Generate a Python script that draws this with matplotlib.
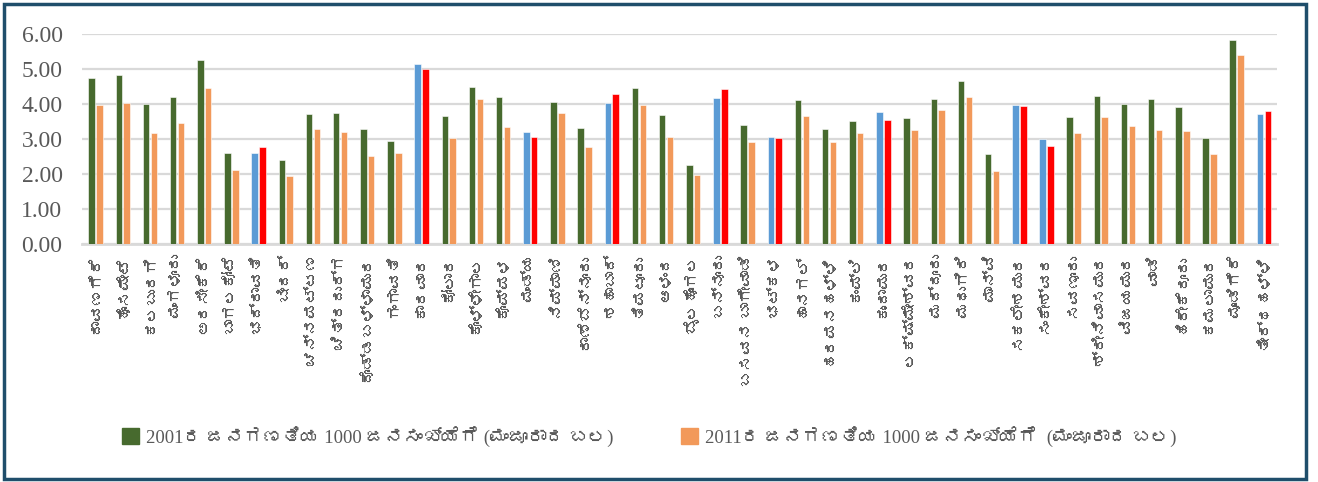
import numpy as np
import matplotlib
matplotlib.use("Agg")
import matplotlib.pyplot as plt
from matplotlib import font_manager
from matplotlib.ft2font import FT2Font
from matplotlib.patches import Patch, Rectangle

# ಪಟ್ಟಣಗಳು / ನಗರಗಳು
towns = ["ದಾವಣಗೆರೆ", "ಹೊಸಪೇಟೆ", "ಕಲಬುರಗಿ", "ಮಂಗಳೂರು", "ಅರಸೀಕೆರೆ", "ಬಾಗಲಕೋಟೆ",
         "ಭದ್ರಾವತಿ", "ಬೀದರ್", "ಚನ್ನಪಟ್ಟಣ", "ಚಿತ್ರದುರ್ಗ", "ದೊಡ್ಡಬಳ್ಳಾಪುರ", "ಗಂಗಾವತಿ",
         "ಕಾರವಾರ", "ಕೋಲಾರ", "ಕೊಳ್ಳೇಗಾಲ", "ಕೊಪ್ಪಳ", "ಮಂಡ್ಯ", "ನಿಪ್ಪಾಣಿ",
         "ರಾಣೆಬೆನ್ನೂರು", "ಶಹಾಬಾದ್", "ತಿಪಟೂರು", "ಆಳಂದ", "ಬೈಲಹೊಂಗಲ", "ಬನ್ನೂರು",
         "ಬಸವನ ಬಾಗೇವಾಡಿ", "ಭಟ್ಕಳ", "ಹಾನಗಲ್", "ಹರಪನಹಳ್ಳಿ", "ಕಂಪ್ಲಿ", "ಕುಂದಾಪುರ",
         "ಲಕ್ಷ್ಮೇಶ್ವರ", "ಮದ್ದೂರು", "ಮಧುಗಿರಿ", "ಮಾನ್ವಿ", "ಸಕಲೇಶಪುರ", "ಸಂಕೇಶ್ವರ",
         "ಸವಣೂರು", "ಶ್ರೀನಿವಾಸಪುರ", "ವಿಜಯಪುರ", "ವಾಡಿ", "ಹಿರೇಕೆರೂರು", "ಕಮಲಾಪುರ",
         "ಮೂಡಿಗೆರೆ", "ತೀರ್ಥಹಳ್ಳಿ"]

# 2001 ಮತ್ತು 2011 ಜನಗಣತಿಯ ಪ್ರಕಾರ 1000 ಜನಸಂಖ್ಯೆಗೆ ಮಂಜೂರಾದ ಬಲ
v2001 = [4.73, 4.83, 4.01, 4.20, 5.26, 2.59, 2.60, 2.39, 3.71, 3.73, 3.29, 2.95,
         5.14, 3.67, 4.49, 4.20, 3.20, 4.07, 3.30, 4.02, 4.45, 3.69, 2.25, 4.17,
         3.39, 3.06, 4.12, 3.29, 3.52, 3.77, 3.59, 4.14, 4.65, 2.56, 3.97, 3.00,
         3.63, 4.23, 4.00, 4.13, 3.90, 3.02, 5.82, 3.71]
v2011 = [3.97, 4.02, 3.17, 3.45, 4.45, 2.10, 2.78, 1.93, 3.28, 3.21, 2.52, 2.60,
         5.00, 3.02, 4.13, 3.33, 3.06, 3.75, 2.78, 4.29, 3.96, 3.06, 1.96, 4.43,
         2.91, 3.03, 3.66, 2.92, 3.17, 3.54, 3.26, 3.82, 4.19, 2.08, 3.94, 2.80,
         3.17, 3.63, 3.38, 3.27, 3.23, 2.58, 5.39, 3.80]

# ಬೇರೆ ಬಣ್ಣದಲ್ಲಿ ತೋರಿಸಿದ ಪಟ್ಟಣಗಳು
highlighted = ["ಭದ್ರಾವತಿ", "ಕಾರವಾರ", "ಮಂಡ್ಯ", "ಶಹಾಬಾದ್", "ಬನ್ನೂರು", "ಭಟ್ಕಳ",
               "ಕುಂದಾಪುರ", "ಸಕಲೇಶಪುರ", "ಸಂಕೇಶ್ವರ", "ತೀರ್ಥಹಳ್ಳಿ"]

legend_labels = ["2001ರ ಜನಗಣತಿಯ 1000 ಜನಸಂಖ್ಯೆಗೆ (ಮಂಜೂರಾದ ಬಲ)",
                 "2011ರ ಜನಗಣತಿಯ 1000 ಜನಸಂಖ್ಯೆಗೆ  (ಮಂಜೂರಾದ ಬಲ)"]

GREEN = "#476A2E"
ORANGE = "#F2995A"
BLUE = "#5B9BD5"
RED = "#FF0000"
TEXT = "#595959"
GRID = "#D9D9D9"


def find_kannada_font():
    # ಕನ್ನಡ ಅಕ್ಷರಗಳಿರುವ ಫಾಂಟ್ ಹುಡುಕು
    for f in font_manager.fontManager.ttflist:
        try:
            if 0x0C95 in FT2Font(f.fname).get_charmap():
                return f.name
        except Exception:
            pass
    return None


kn_font = find_kannada_font()
families = ["Liberation Serif"]
if kn_font:
    families.append(kn_font)
families.append("DejaVu Sans")
plt.rcParams["font.family"] = families

fig = plt.figure(figsize=(13.18, 4.82), dpi=100)
ax = fig.add_axes([0.0622, 0.4938, 0.907, 0.4357])

x = np.arange(len(towns))
w = 0.24
off = 0.145
c1 = [BLUE if t in highlighted else GREEN for t in towns]
c2 = [RED if t in highlighted else ORANGE for t in towns]
ax.bar(x - off, v2001, width=w, color=c1, edgecolor="white", linewidth=0.4, zorder=3)
ax.bar(x + off, v2011, width=w, color=c2, edgecolor="white", linewidth=0.4, zorder=3)

ax.set_xlim(-0.5, len(towns) - 0.5)
ax.set_ylim(0, 6)
ax.set_yticks(np.arange(0, 7, 1))
ax.set_yticklabels([f"{v:.2f}" for v in np.arange(0, 7, 1)], fontsize=17, color=TEXT)
ax.set_xticks(x)
ax.set_xticklabels(towns, rotation=90, fontsize=11.5, color=TEXT)
ax.tick_params(axis="both", length=0)
ax.tick_params(axis="y", pad=14)
ax.tick_params(axis="x", pad=7)
ax.grid(axis="y", color=GRID, linewidth=1.6, zorder=0)
for s in ["top", "right", "left"]:
    ax.spines[s].set_visible(False)
ax.spines["bottom"].set_color(GRID)
ax.spines["bottom"].set_linewidth(2)

# ಕೆಳಗಿನ ಸೂಚಿ
for lab, col, xpos in zip(legend_labels, [GREEN, ORANGE], [0.080, 0.504]):
    fig.legend(handles=[Patch(facecolor=col, edgecolor=col)], labels=[lab],
               loc="center left", bbox_to_anchor=(xpos, 0.095), frameon=False,
               fontsize=13.5, handlelength=0.9, handleheight=0.9,
               handletextpad=0.35, labelcolor=TEXT)

# ಹೊರಗಿನ ಚೌಕಟ್ಟು
fig.patches.append(Rectangle((0.003, 0.006), 0.988, 0.986, transform=fig.transFigure,
                             fill=False, edgecolor="#1F4E6B", linewidth=2.5))

fig.savefig("out.png", dpi=100)
